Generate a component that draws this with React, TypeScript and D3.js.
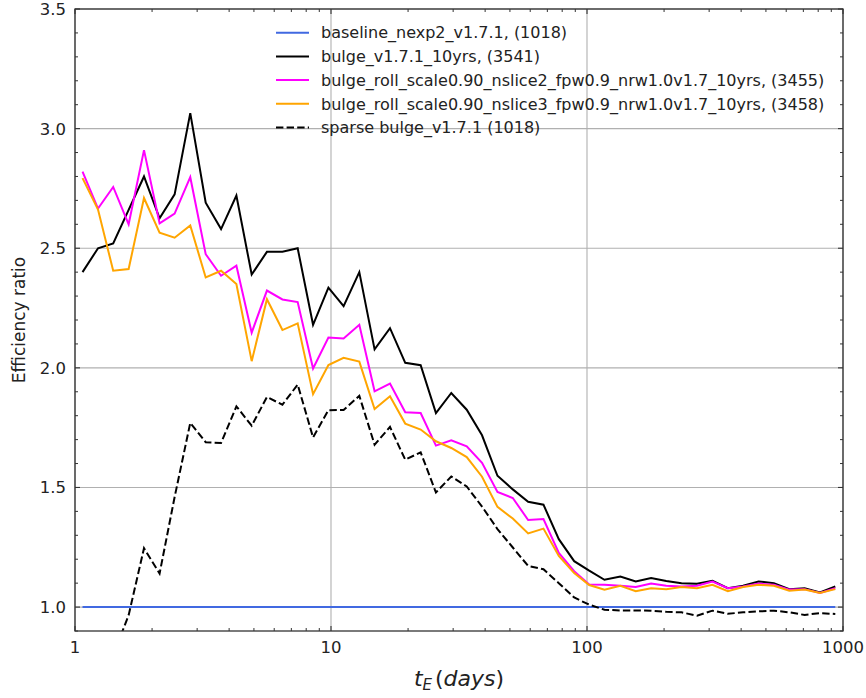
import React from 'react';
import * as d3 from 'd3';

// Bin centres of t_E (days)
const tE = [
  1.07, 1.23, 1.41, 1.62, 1.86, 2.14, 2.45, 2.82, 3.24, 3.72,
  4.27, 4.90, 5.62, 6.46, 7.41, 8.51, 9.77, 11.2, 12.9, 14.8,
  17.0, 19.5, 22.4, 25.7, 29.5, 33.9, 38.9, 44.7, 51.3, 58.9,
  67.6, 77.6, 89.1, 102, 117, 135, 155, 178, 204, 234,
  269, 309, 355, 407, 468, 537, 617, 708, 813, 933,
];

const baselineRatio = [
  1.0, 1.0, 1.0, 1.0, 1.0, 1.0, 1.0, 1.0, 1.0, 1.0,
  1.0, 1.0, 1.0, 1.0, 1.0, 1.0, 1.0, 1.0, 1.0, 1.0,
  1.0, 1.0, 1.0, 1.0, 1.0, 1.0, 1.0, 1.0, 1.0, 1.0,
  1.0, 1.0, 1.0, 1.0, 1.0, 1.0, 1.0, 1.0, 1.0, 1.0,
  1.0, 1.0, 1.0, 1.0, 1.0, 1.0, 1.0, 1.0, 1.0, 1.0,
];

const bulgeRatio = [
  2.40, 2.50, 2.52, 2.66, 2.80, 2.625, 2.725, 3.065, 2.69, 2.58,
  2.72, 2.39, 2.485, 2.485, 2.50, 2.18, 2.335, 2.258, 2.40, 2.077,
  2.166, 2.021, 2.011, 1.811, 1.895, 1.825, 1.718, 1.549, 1.492, 1.44,
  1.428, 1.284, 1.192, 1.152, 1.114, 1.128, 1.107, 1.121, 1.109, 1.10,
  1.098, 1.11, 1.079, 1.089, 1.107, 1.10, 1.075, 1.079, 1.061, 1.086,
];

const rollNslice2Ratio = [
  2.82, 2.666, 2.756, 2.60, 2.91, 2.604, 2.645, 2.797, 2.475, 2.385,
  2.427, 2.147, 2.323, 2.286, 2.275, 1.997, 2.127, 2.123, 2.18, 1.902,
  1.934, 1.814, 1.811, 1.675, 1.697, 1.672, 1.603, 1.481, 1.456, 1.364,
  1.368, 1.226, 1.15, 1.094, 1.093, 1.089, 1.084, 1.098, 1.089, 1.086,
  1.089, 1.107, 1.079, 1.086, 1.098, 1.093, 1.073, 1.075, 1.059, 1.079,
];

const rollNslice3Ratio = [
  2.793, 2.662, 2.406, 2.413, 2.71, 2.565, 2.544, 2.595, 2.378, 2.406,
  2.35, 2.028, 2.287, 2.158, 2.186, 1.89, 2.012, 2.042, 2.026, 1.828,
  1.881, 1.767, 1.742, 1.693, 1.665, 1.627, 1.545, 1.419, 1.37, 1.308,
  1.328, 1.214, 1.142, 1.092, 1.073, 1.089, 1.066, 1.079, 1.075, 1.084,
  1.079, 1.093, 1.066, 1.084, 1.093, 1.089, 1.068, 1.073, 1.059, 1.075,
];

const sparseBulgeRatio: (number | null)[] = [
  null, null, 0.80, 0.966, 1.246, 1.14, 1.46, 1.77, 1.689, 1.686,
  1.839, 1.758, 1.878, 1.846, 1.93, 1.709, 1.823, 1.824, 1.883, 1.679,
  1.753, 1.616, 1.647, 1.479, 1.546, 1.504, 1.42, 1.326, 1.249, 1.172,
  1.158, 1.10, 1.04, 1.01, 0.989, 0.986, 0.986, 0.985, 0.98, 0.978,
  0.964, 0.985, 0.972, 0.978, 0.982, 0.985, 0.978, 0.967, 0.975, 0.971,
];

const seriesLabels = [
  'baseline_nexp2_v1.7.1, (1018)',
  'bulge_v1.7.1_10yrs, (3541)',
  'bulge_roll_scale0.90_nslice2_fpw0.9_nrw1.0v1.7_10yrs, (3455)',
  'bulge_roll_scale0.90_nslice3_fpw0.9_nrw1.0v1.7_10yrs, (3458)',
  'sparse bulge_v1.7.1 (1018)',
];
const seriesColors = ['#4169e1', '#000000', '#ff00ff', '#ffa500', '#000000'];
const seriesDash = [null, null, null, null, '7.4,3.2'];
const seriesValues = [baselineRatio, bulgeRatio, rollNslice2Ratio, rollNslice3Ratio, sparseBulgeRatio];

const xTickValues = [1, 10, 100, 1000];
const xTickLabels = ['1', '10', '100', '1000'];
const yTickValues = [1.0, 1.5, 2.0, 2.5, 3.0, 3.5];
const yTickLabels = ['1.0', '1.5', '2.0', '2.5', '3.0', '3.5'];

const FONT = 'DejaVu Sans';

export default function App() {
  const W = 866, H = 698;
  const L = 75, R = 843, T = 9, B = 631;
  const x = d3.scaleLog().domain([1, 1000]).range([L, R]);
  const y = d3.scaleLinear().domain([0.9, 3.5]).range([B, T]);

  const xMinor: number[] = [];
  [1, 10, 100].forEach((d) => { for (let k = 2; k <= 9; k++) xMinor.push(k * d); });
  const yMinor = d3.range(9, 36).map((v) => v / 10).filter((v) => Math.abs(v * 2 - Math.round(v * 2)) > 1e-6);

  const line = d3.line<[number, number | null]>()
    .defined((d) => d[1] !== null)
    .x((d) => x(d[0]))
    .y((d) => y(d[1] as number));

  const spine = '#333';
  const grid = '#b0b0b0';

  return (
    <svg width={W} height={H} style={{ position: 'absolute', left: 0, top: 0, background: '#fff' }} fontFamily={FONT}>
      <defs>
        <clipPath id="plotclip">
          <rect x={L} y={T} width={R - L} height={B - T} />
        </clipPath>
      </defs>
      <rect x={0} y={0} width={W} height={H} fill="#fff" />
      {/* grid */}
      {yTickValues.map((v) => (
        <line key={'gy' + v} x1={L} x2={R} y1={y(v)} y2={y(v)} stroke={grid} strokeWidth={1.1} />
      ))}
      {xTickValues.map((v) => (
        <line key={'gx' + v} x1={x(v)} x2={x(v)} y1={T} y2={B} stroke={grid} strokeWidth={1.1} />
      ))}

      {/* series */}
      <g clipPath="url(#plotclip)">
        {seriesValues.map((vals, si) => (
          <path
            key={'s' + si}
            d={line(tE.map((t, i) => [t, vals[i]] as [number, number | null])) || ''}
            fill="none"
            stroke={seriesColors[si]}
            strokeWidth={2}
            strokeDasharray={seriesDash[si] || undefined}
            strokeLinejoin="miter"
          />
        ))}
      </g>

      {/* ticks */}
      {yTickValues.map((v) => (
        <g key={'ty' + v}>
          <line x1={L} x2={L + 5} y1={y(v)} y2={y(v)} stroke={spine} strokeWidth={1.1} />
          <line x1={R} x2={R - 5} y1={y(v)} y2={y(v)} stroke={spine} strokeWidth={1.1} />
        </g>
      ))}
      {yMinor.map((v) => (
        <g key={'tym' + v}>
          <line x1={L} x2={L + 3} y1={y(v)} y2={y(v)} stroke={spine} strokeWidth={1} />
          <line x1={R} x2={R - 3} y1={y(v)} y2={y(v)} stroke={spine} strokeWidth={1} />
        </g>
      ))}
      {xTickValues.map((v) => (
        <g key={'tx' + v}>
          <line x1={x(v)} x2={x(v)} y1={B} y2={B - 5} stroke={spine} strokeWidth={1.1} />
          <line x1={x(v)} x2={x(v)} y1={T} y2={T + 5} stroke={spine} strokeWidth={1.1} />
        </g>
      ))}
      {xMinor.map((v) => (
        <g key={'txm' + v}>
          <line x1={x(v)} x2={x(v)} y1={B} y2={B - 3} stroke={spine} strokeWidth={1} />
          <line x1={x(v)} x2={x(v)} y1={T} y2={T + 3} stroke={spine} strokeWidth={1} />
        </g>
      ))}

      {/* frame */}
      <rect x={L} y={T} width={R - L} height={B - T} fill="none" stroke={spine} strokeWidth={1.3} />

      {/* tick labels */}
      {yTickValues.map((v, i) => (
        <text key={'yl' + v} x={L - 9} y={y(v)} dy="0.36em" textAnchor="end" fontSize={16.5} fill="#222">
          {yTickLabels[i]}
        </text>
      ))}
      {xTickValues.map((v, i) => (
        <text key={'xl' + v} x={x(v)} y={B + 22} textAnchor="middle" fontSize={16.5} fill="#222">
          {xTickLabels[i]}
        </text>
      ))}

      {/* axis labels */}
      <text
        transform={`translate(${19},${(T + B) / 2}) rotate(-90)`}
        textAnchor="middle"
        dy="0.36em"
        fontSize={17}
        fill="#222"
      >
        Efficiency ratio
      </text>
      <text x={(L + R) / 2} y={686} textAnchor="middle" fontSize={22} fill="#222" fontStyle="italic">
        t
        <tspan fontSize={15} dy={4}>E</tspan>
        <tspan dy={-4} dx={3} fontStyle="normal">(</tspan>
        <tspan>days</tspan>
        <tspan fontStyle="normal">)</tspan>
      </text>

      {/* legend */}
      {seriesLabels.map((lab, i) => {
        const ly = 32.7 + i * 23.7;
        return (
          <g key={'lg' + i}>
            <line
              x1={276}
              x2={309}
              y1={ly}
              y2={ly}
              stroke={seriesColors[i]}
              strokeWidth={2}
              strokeDasharray={seriesDash[i] || undefined}
            />
            <text x={321} y={ly} dy="0.36em" fontSize={16} fill="#222">
              {lab}
            </text>
          </g>
        );
      })}
    </svg>
  );
}
